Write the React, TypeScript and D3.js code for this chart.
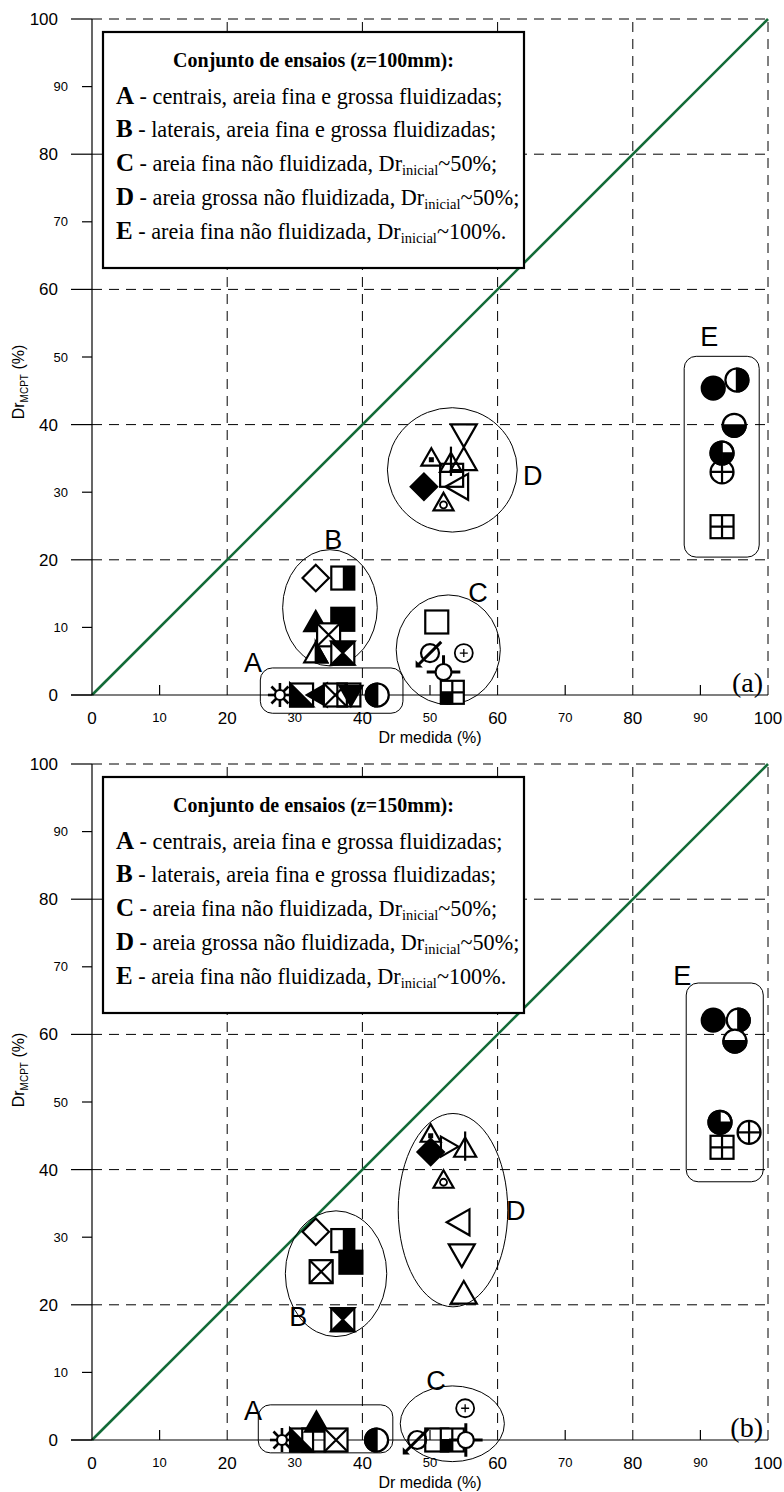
import * as d3 from "d3"

const majorTicks = [0, 20, 40, 60, 80, 100]
const minorTicks = [10, 30, 50, 70, 90]
const gridTicks = [20, 40, 60, 80, 100]

const legendLetters = ["A", "B", "C", "D", "E"]
const legendTexts = [
  " - centrais, areia fina e grossa fluidizadas;",
  " - laterais, areia fina e grossa fluidizadas;",
  " - areia fina não fluidizada, Dr",
  " - areia grossa não fluidizada, Dr",
  " - areia fina não fluidizada, Dr",
]
const legendSuffix = ["", "", "~50%;", "~50%;", "~100%."]

// (a) z=100mm
const aX = [27.8, 31, 33.4, 36, 38, 38.3, 42.2,
  33.1, 37.1, 33.1, 37.1, 35, 33.1, 37.1,
  51, 50, 55, 52, 53.3,
  50.2, 53.2, 53.1, 55, 55, 49.1, 54.1, 52,
  91.9, 95.4, 95, 93.2, 93.2, 93.2]
const aY = [0, 0, 0, 0, 0, 0, 0,
  17.3, 17.3, 10.8, 11.2, 8.9, 6.2, 6.2,
  10.8, 6.2, 6.2, 3.4, 0.4,
  35.1, 32.5, 34.3, 38.5, 34.8, 30.8, 30.8, 28.5,
  45.4, 46.6, 39.9, 35.8, 33, 24.9]
const aKind = ["star", "sqDiag", "triLeftFilled", "sqX", "sq", "triDownFilled", "circHalfL",
  "diamond", "sqHalfR", "triUpFilled", "sqFilled", "sqX", "triUpHalfR", "sqHourglass",
  "sq", "circSlashArrow", "circPlus", "crossCircle", "sqGridQ",
  "triDot", "sq", "triStem", "triDown", "triUp", "diamondFilled", "triLeft", "triCircle",
  "circFilled", "circHalfR", "circHalfB", "circQuarter3", "circCross", "sqGrid"]

// (b) z=150mm
const bX = [28.1, 31, 32.8, 33.2, 36.1, 42.1,
  33.1, 37.1, 38.3, 33.9, 37.1,
  48.1, 51, 53.3, 55.3, 55.2,
  50.1, 50.1, 52.8, 55.2, 52, 54.3, 54.7, 55,
  91.9, 95.6, 95.1, 92.9, 93.2, 97.2]
const bY = [0, 0, 0, 2.6, 0, 0,
  30.8, 29.5, 26.3, 24.9, 17.8,
  0, 0, 0, 0, 4.7,
  45.3, 42.6, 43.4, 43.2, 38.5, 32.2, 27.4, 21.7,
  62.1, 62.1, 59, 47, 43.3, 45.5]
const bKind = ["star", "sqDiag", "sq", "triUpFilled", "sqX", "circHalfL",
  "diamond", "sqHalfR", "sqFilled", "sqX", "sqHourglass",
  "circSlashArrow", "sq", "sqGridQ", "crossCircle", "circPlus",
  "triDot", "diamondFilled", "triRight", "triStem", "triCircle", "triLeft", "triDown", "triUp",
  "circFilled", "circHalfR", "circHalfB", "circQuarter3", "sqGrid", "circCross"]

// group outlines, in data units
const aGroups = [
  { type: "rect", x0: 24.9, x1: 46, y0: -2.7, y1: 4, label: "A", lx: 23.8, ly: 4.9 },
  { type: "ellipse", cx: 35.2, cy: 12.9, rx: 7, ry: 8.6, label: "B", lx: 35.7, ly: 23.1 },
  { type: "ellipse", cx: 52.7, cy: 6.7, rx: 7.7, ry: 8.1, label: "C", lx: 57.1, ly: 15.2 },
  { type: "ellipse", cx: 53.3, cy: 33.3, rx: 9.6, ry: 9.2, label: "D", lx: 65.2, ly: 32.5 },
  { type: "rect", x0: 87.6, x1: 98.7, y0: 20.4, y1: 50.1, label: "E", lx: 91.3, ly: 53 },
]
const bGroups = [
  { type: "rect", x0: 24.6, x1: 44.5, y0: -1.9, y1: 5.2, label: "A", lx: 23.8, ly: 4.4 },
  { type: "ellipse", cx: 36.1, cy: 24.6, rx: 7.5, ry: 9.3, label: "B", lx: 30.5, ly: 18.3 },
  { type: "ellipse", cx: 53.3, cy: 2.4, rx: 7.7, ry: 5.6, label: "C", lx: 50.9, ly: 8.9 },
  { type: "ellipse", cx: 53.4, cy: 34, rx: 8.1, ry: 14.3, label: "D", lx: 62.7, ly: 34 },
  { type: "rect", x0: 87.9, x1: 99.3, y0: 38.2, y1: 67.6, label: "E", lx: 87.3, ly: 68.8 },
]

const SANS = "'Liberation Sans', Arial, sans-serif"
const SERIF = "'Liberation Serif', 'Times New Roman', serif"

const markerSize: Record<string, number> = {
  triUp: 13, triDown: 13, triLeft: 13, triRight: 10, triDot: 10, triCircle: 10, triStem: 11,
  circPlus: 9, crossCircle: 8, circSlashArrow: 9, star: 5,
}

function Marker({ kind, cx, cy }: { kind: string; cx: number; cy: number }) {
  const r = markerSize[kind] ?? 11.5
  const s = { stroke: "#000", strokeWidth: 2.2 }
  const pts = (p: number[][]) => p.map((q) => q.join(",")).join(" ")
  const up = [[0, -0.95 * r], [r, 0.8 * r], [-r, 0.8 * r]]
  const down = [[0, 0.95 * r], [r, -0.8 * r], [-r, -0.8 * r]]
  const left = [[-0.95 * r, 0], [0.8 * r, -r], [0.8 * r, r]]
  const right = [[0.95 * r, 0], [-0.8 * r, -r], [-0.8 * r, r]]
  const sq = <rect x={-r} y={-r} width={2 * r} height={2 * r} fill="#fff" {...s} />
  let el: any = null
  switch (kind) {
    case "sq":
      el = <rect x={-r} y={-r} width={2 * r} height={2 * r} fill="none" {...s} />
      break
    case "sqFilled":
      el = <rect x={-r} y={-r} width={2 * r} height={2 * r} fill="#000" {...s} />
      break
    case "sqHalfR":
      el = <>{sq}<rect x={0} y={-r} width={r} height={2 * r} fill="#000" /></>
      break
    case "sqX":
      el = <>{sq}<path d={`M${-r},${-r}L${r},${r}M${r},${-r}L${-r},${r}`} {...s} /></>
      break
    case "sqHourglass":
      el = <>{sq}<polygon points={pts([[-r, -r], [r, -r], [0, 0], [r, r], [-r, r], [0, 0]])} fill="#000" {...s} /></>
      break
    case "sqDiag":
      el = <>{sq}<polygon points={pts([[-r, -r], [-r, r], [r, r]])} fill="#000" {...s} /></>
      break
    case "sqGrid":
      el = <>{sq}<path d={`M0,${-r}V${r}M${-r},0H${r}`} {...s} /></>
      break
    case "sqGridQ":
      el = <>{sq}<rect x={-r} y={0} width={r} height={r} fill="#000" /><path d={`M0,${-r}V${r}M${-r},0H${r}`} {...s} /></>
      break
    case "diamond":
      el = <polygon points={pts([[0, -r * 1.15], [r * 1.15, 0], [0, r * 1.15], [-r * 1.15, 0]])} fill="#fff" {...s} />
      break
    case "diamondFilled":
      el = <polygon points={pts([[0, -r * 1.15], [r * 1.15, 0], [0, r * 1.15], [-r * 1.15, 0]])} fill="#000" {...s} />
      break
    case "triUp":
      el = <polygon points={pts(up)} fill="none" {...s} />
      break
    case "triUpFilled":
      el = <polygon points={pts(up)} fill="#000" {...s} />
      break
    case "triUpHalfR":
      el = <><polygon points={pts(up)} fill="#fff" {...s} /><polygon points={pts([[0, -0.95 * r], [r, 0.8 * r], [0, 0.8 * r]])} fill="#000" {...s} /></>
      break
    case "triDown":
      el = <polygon points={pts(down)} fill="none" {...s} />
      break
    case "triDownFilled":
      el = <polygon points={pts(down)} fill="#000" {...s} />
      break
    case "triLeft":
      el = <polygon points={pts(left)} fill="none" {...s} />
      break
    case "triLeftFilled":
      el = <polygon points={pts(left)} fill="#000" {...s} />
      break
    case "triRight":
      el = <polygon points={pts(right)} fill="none" {...s} />
      break
    case "triDot":
      el = <><polygon points={pts(up)} fill="#fff" {...s} /><rect x={-2.5} y={0.2 * r - 2.5} width={5} height={5} fill="#000" /></>
      break
    case "triCircle":
      el = <><polygon points={pts(up)} fill="#fff" {...s} /><circle cx={0} cy={0.25 * r} r={3.5} fill="#fff" stroke="#000" strokeWidth={1.8} /></>
      break
    case "triStem":
      el = <><polygon points={pts(up)} fill="none" {...s} /><path d={`M0,${-1.5 * r}V${0.8 * r + 4}`} {...s} /></>
      break
    case "circFilled":
      el = <circle r={r} fill="#000" {...s} />
      break
    case "circHalfL":
      el = <><circle r={r} fill="#fff" {...s} /><path d={`M0,${-r}A${r},${r} 0 0 0 0,${r}Z`} fill="#000" {...s} /></>
      break
    case "circHalfR":
      el = <><circle r={r} fill="#fff" {...s} /><path d={`M0,${-r}A${r},${r} 0 0 1 0,${r}Z`} fill="#000" {...s} /></>
      break
    case "circHalfB":
      el = <><circle r={r} fill="#fff" {...s} /><path d={`M${-r},0A${r},${r} 0 0 0 ${r},0Z`} fill="#000" {...s} /></>
      break
    case "circQuarter3":
      el = <>
        <circle r={r} fill="#fff" {...s} />
        <path d={`M0,0L${-r},0A${r},${r} 0 0 1 0,${-r}Z`} fill="#000" />
        <path d={`M0,0L0,${r}A${r},${r} 0 0 1 ${-r},0Z`} fill="#000" />
        <path d={`M0,0L${r},0A${r},${r} 0 0 1 0,${r}Z`} fill="#000" />
        <path d={`M0,${-r}V${r}M${-r},0H${r}`} stroke="#000" strokeWidth={1.5} />
        <circle r={r} fill="none" {...s} />
      </>
      break
    case "circCross":
      el = <><circle r={r} fill="none" {...s} /><path d={`M0,${-r}V${r}M${-r},0H${r}`} {...s} /></>
      break
    case "circPlus":
      el = <><circle r={r} fill="#fff" stroke="#000" strokeWidth={1.8} /><path d="M0,-4V4M-4,0H4" stroke="#000" strokeWidth={1.3} /></>
      break
    case "crossCircle":
      el = <><path d={`M0,${-2.1 * r}V${2.1 * r}M${-2.1 * r},0H${2.1 * r}`} stroke="#000" strokeWidth={3} /><circle r={r} fill="#fff" {...s} /></>
      break
    case "circSlashArrow":
      el = <>
        <circle r={r} fill="none" {...s} />
        <path d={`M${1.25 * r},${-1.25 * r}L${-1.3 * r},${1.3 * r}`} stroke="#000" strokeWidth={3} />
        <polygon points={pts([[-1.6 * r, 1.6 * r], [-1.6 * r, 0.8 * r], [-0.8 * r, 1.6 * r]])} fill="#000" />
      </>
      break
    case "star": {
      const rays = d3.range(8).map((i) => (i * Math.PI) / 4)
      el = <>
        {rays.map((a, i) => (
          <line key={i} x1={Math.cos(a) * 5} y1={Math.sin(a) * 5} x2={Math.cos(a) * 12} y2={Math.sin(a) * 12} stroke="#000" strokeWidth={2.6} />
        ))}
        <circle r={r} fill="#fff" {...s} />
      </>
      break
    }
  }
  return <g transform={`translate(${cx},${cy})`}>{el}</g>
}

function Panel({ top, z, tag, xs, ys, kinds, groups, titleY }: {
  top: number; z: string; tag: string; xs: number[]; ys: number[]; kinds: string[]; groups: any[]; titleY: number
}) {
  const x = d3.scaleLinear().domain([0, 100]).range([92, 768])
  const y = d3.scaleLinear().domain([0, 100]).range([top + 676, top])
  const line = d3.line<number>().x((d) => x(d)).y((d) => y(d))
  const rowY = [85, 118, 152, 186, 220]

  return (
    <g>
      {/* grid */}
      {gridTicks.map((t) => (
        <g key={t}>
          <line x1={x(0)} x2={x(100)} y1={y(t)} y2={y(t)} stroke="#000" strokeDasharray="10,7" />
          <line x1={x(t)} x2={x(t)} y1={y(0)} y2={y(100)} stroke="#000" strokeDasharray="10,7" />
        </g>
      ))}
      <path d={line([0, 100]) || ""} stroke="#136b38" strokeWidth={2.6} fill="none" />

      {/* axes */}
      <line x1={x(0)} x2={x(0)} y1={y(0)} y2={y(100)} stroke="#000" strokeWidth={1.2} />
      <line x1={71} x2={x(100)} y1={y(0)} y2={y(0)} stroke="#000" strokeWidth={1.2} />
      {majorTicks.map((t) => (
        <g key={"m" + t}>
          <line x1={71} x2={x(0)} y1={y(t)} y2={y(t)} stroke="#000" strokeWidth={1.2} />
          <text x={58} y={y(t)} dy="0.35em" textAnchor="end" fontFamily={SANS} fontSize={17}>{t}</text>
          <text x={x(t)} y={y(0) + 29} textAnchor="middle" fontFamily={SANS} fontSize={17}>{t}</text>
        </g>
      ))}
      {minorTicks.map((t) => (
        <g key={"n" + t}>
          <line x1={82} x2={x(0)} y1={y(t)} y2={y(t)} stroke="#000" strokeWidth={1.2} />
          <line x1={x(t)} x2={x(t)} y1={y(0) - 10} y2={y(0)} stroke="#000" strokeWidth={1.2} />
          <text x={68} y={y(t)} dy="0.35em" textAnchor="end" fontFamily={SANS} fontSize={13}>{t}</text>
          <text x={x(t)} y={y(0) + 27} textAnchor="middle" fontFamily={SANS} fontSize={13}>{t}</text>
        </g>
      ))}
      <text x={430} y={y(0) + 48} textAnchor="middle" fontFamily={SANS} fontSize={16}>Dr medida (%)</text>
      <text transform={`translate(24,${titleY}) rotate(-90)`} textAnchor="middle" fontFamily={SANS} fontSize={16}>
        Dr<tspan fontSize={10} dy={4}>MCPT</tspan><tspan dy={-4}> (%)</tspan>
      </text>

      {/* legend box */}
      <rect x={103} y={top + 13} width={421} height={236} fill="#fff" stroke="#000" strokeWidth={2.2} />
      <text x={313.5} y={top + 48} textAnchor="middle" fontFamily={SERIF} fontWeight="bold" fontSize={20}>
        {`Conjunto de ensaios (z=${z}mm):`}
      </text>
      {legendLetters.map((L, i) => (
        <text key={L} x={116} y={top + rowY[i]} fontFamily={SERIF} fontSize={22.2}>
          <tspan fontWeight="bold" fontSize={25}>{L}</tspan>
          <tspan>{legendTexts[i]}</tspan>
          {legendSuffix[i] && <tspan fontSize={14.5} dy={4}>inicial</tspan>}
          {legendSuffix[i] && <tspan dy={-4}>{legendSuffix[i]}</tspan>}
        </text>
      ))}

      {/* group outlines */}
      {groups.map((g) => (
        <g key={g.label}>
          {g.type === "rect" ? (
            <rect x={x(g.x0)} y={y(g.y1)} width={x(g.x1) - x(g.x0)} height={y(g.y0) - y(g.y1)} rx={12} fill="none" stroke="#000" strokeWidth={1} />
          ) : (
            <ellipse cx={x(g.cx)} cy={y(g.cy)} rx={x(g.rx) - x(0)} ry={y(0) - y(g.ry)} fill="none" stroke="#000" strokeWidth={1} />
          )}
          <text x={x(g.lx)} y={y(g.ly)} dy="0.36em" textAnchor="middle" fontFamily={SANS} fontSize={27}>{g.label}</text>
        </g>
      ))}

      {/* markers */}
      {xs.map((v, i) => (
        <Marker key={i} kind={kinds[i]} cx={x(v)} cy={y(ys[i])} />
      ))}

      <text x={763} y={y(0) - 3} textAnchor="end" fontFamily={SERIF} fontSize={28}>{tag}</text>
    </g>
  )
}

export default function App() {
  return (
    <svg width={784} height={1492} style={{ position: "absolute", left: 0, top: 0, background: "#fff" }}>
      <rect width={784} height={1492} fill="#fff" />
      <Panel top={19} z="100" tag="(a)" xs={aX} ys={aY} kinds={aKind} groups={aGroups} titleY={382} />
      <Panel top={764} z="150" tag="(b)" xs={bX} ys={bY} kinds={bKind} groups={bGroups} titleY={1070} />
    </svg>
  )
}
